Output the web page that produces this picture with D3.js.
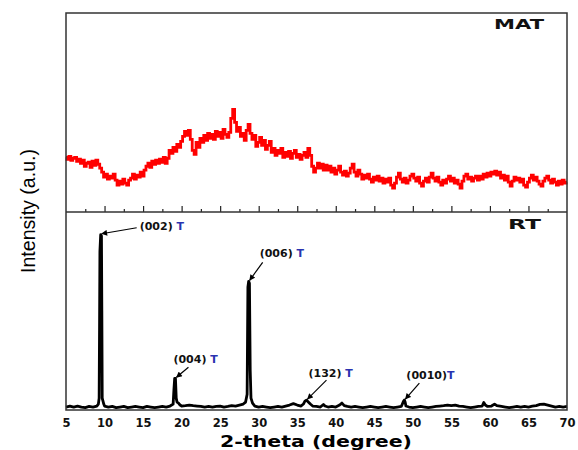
<!DOCTYPE html>
<html>
<head>
<meta charset="utf-8">
<script src="https://cdn.jsdelivr.net/npm/d3@7/dist/d3.min.js"></script>
<style>
body { margin: 0; background: #fff; }
svg { display: block; }
</style>
</head>
<body>
<div id="chart"></div>
<script>
// x axis
const xTicks = [5, 10, 15, 20, 25, 30, 35, 40, 45, 50, 55, 60, 65, 70];
const xMinor = [7.5, 12.5, 17.5, 22.5, 27.5, 32.5, 37.5, 42.5, 47.5, 52.5, 57.5, 62.5, 67.5];
const panelNames = ["MAT", "RT"];

// MAT pattern (2-theta, counts) - red
const matData = [
  [5,550],[5.25,530],[5.5,560],[5.75,520],
  [6,540],[6.25,550],[6.5,510],[6.75,530],
  [7,490],[7.25,520],[7.5,460],[7.75,490],
  [8,500],[8.25,450],[8.5,510],[8.75,470],
  [9,520],[9.25,480],[9.5,440],[9.75,400],
  [10,350],[10.25,380],[10.5,330],[10.75,360],
  [11,340],[11.25,380],[11.5,320],[11.75,270],
  [12,310],[12.25,280],[12.5,330],[12.75,290],
  [13,270],[13.25,320],[13.5,340],[13.75,380],
  [14,330],[14.25,370],[14.5,350],[14.75,400],
  [15,360],[15.25,420],[15.5,460],[15.75,490],
  [16,450],[16.25,510],[16.5,480],[16.75,520],
  [17,490],[17.25,530],[17.5,500],[17.75,550],
  [18,490],[18.25,540],[18.5,620],[18.75,590],
  [19,650],[19.25,610],[19.5,680],[19.75,650],
  [20,710],[20.25,760],[20.5,810],[20.75,770],
  [21,820],[21.25,730],[21.5,620],[21.75,580],
  [22,700],[22.25,650],[22.5,740],[22.75,700],
  [23,770],[23.25,720],[23.5,790],[23.75,740],
  [24,780],[24.25,730],[24.5,810],[24.75,760],
  [25,800],[25.25,740],[25.5,830],[25.75,780],
  [26,750],[26.25,800],[26.5,940],[26.75,1030],
  [27,900],[27.25,810],[27.5,850],[27.75,760],
  [28,790],[28.25,720],[28.5,820],[28.75,880],
  [29,790],[29.25,730],[29.5,770],[29.75,660],
  [30,700],[30.25,750],[30.5,670],[30.75,720],
  [31,630],[31.25,670],[31.5,710],[31.75,600],
  [32,640],[32.25,570],[32.5,620],[32.75,590],
  [33,640],[33.25,550],[33.5,600],[33.75,560],
  [34,610],[34.25,540],[34.5,590],[34.75,620],
  [35,550],[35.25,580],[35.5,530],[35.75,570],
  [36,600],[36.25,550],[36.5,640],[36.75,570],
  [37,460],[37.25,400],[37.5,440],[37.75,490],
  [38,440],[38.25,480],[38.5,420],[38.75,470],
  [39,420],[39.25,460],[39.5,400],[39.75,440],
  [40,380],[40.25,420],[40.5,460],[40.75,400],
  [41,370],[41.25,410],[41.5,360],[41.75,390],
  [42,440],[42.25,480],[42.5,400],[42.75,360],
  [43,420],[43.25,380],[43.5,330],[43.75,370],
  [44,340],[44.25,380],[44.5,330],[44.75,300],
  [45,350],[45.25,320],[45.5,360],[45.75,310],
  [46,340],[46.25,290],[46.5,330],[46.75,300],
  [47,340],[47.25,270],[47.5,240],[47.75,290],
  [48,350],[48.25,390],[48.5,330],[48.75,300],
  [49,340],[49.25,290],[49.5,320],[49.75,360],
  [50,380],[50.25,340],[50.5,310],[50.75,350],
  [51,290],[51.25,260],[51.5,310],[51.75,340],
  [52,300],[52.25,350],[52.5,390],[52.75,340],
  [53,310],[53.25,350],[53.5,300],[53.75,270],
  [54,320],[54.25,290],[54.5,330],[54.75,360],
  [55,310],[55.25,340],[55.5,290],[55.75,320],
  [56,280],[56.25,240],[56.5,310],[56.75,360],
  [57,380],[57.25,330],[57.5,350],[57.75,310],
  [58,340],[58.25,360],[58.5,320],[58.75,360],
  [59,330],[59.25,380],[59.5,350],[59.75,390],
  [60,360],[60.25,400],[60.5,380],[60.75,410],
  [61,370],[61.25,400],[61.5,340],[61.75,370],
  [62,320],[62.25,360],[62.5,300],[62.75,260],
  [63,310],[63.25,350],[63.5,320],[63.75,340],
  [64,300],[64.25,330],[64.5,270],[64.75,250],
  [65,300],[65.25,340],[65.5,370],[65.75,320],
  [66,350],[66.25,310],[66.5,280],[66.75,260],
  [67,310],[67.25,340],[67.5,360],[67.75,320],
  [68,290],[68.25,330],[68.5,300],[68.75,270],
  [69,310],[69.25,280],[69.5,320],[69.75,290],
  [70,300]
];

// RT pattern (2-theta, counts) - black
const rtData = [
  [5,15],[5.5,20],[6,15],[6.5,20],[7,15],[7.5,12],[8,18],[8.5,15],[9,20],
  [9.2,30],[9.3,60],[9.35,400],[9.4,800],[9.5,885],[9.6,880],[9.65,500],[9.7,60],[9.8,45],[9.9,30],
  [10,20],[10.5,15],[11,18],[11.5,12],[12,15],[12.5,18],[13,12],[13.5,15],[14,18],[14.5,15],
  [15,12],[15.5,18],[16,15],[16.5,12],[17,15],[17.5,18],[18,15],[18.5,20],
  [18.9,30],[19,100],[19.1,160],[19.2,160],[19.3,60],[19.4,40],[19.6,35],[19.8,25],
  [20,20],[20.5,22],[21,25],[21.5,22],[22,20],[22.5,18],[23,15],[23.5,18],[24,15],[24.5,18],
  [25,20],[25.5,15],[26,18],[26.5,22],[27,20],[27.5,25],[28,30],[28.3,40],
  [28.5,80],[28.6,620],[28.7,650],[28.8,640],[28.9,200],[29,60],[29.2,35],[29.5,20],
  [30,15],[30.5,18],[31,15],[31.5,12],[32,15],[32.5,18],[33,15],[33.5,20],[34,25],[34.5,32],
  [35,25],[35.5,20],[35.8,30],[36,45],[36.2,50],[36.4,42],[36.7,30],[37,20],[37.5,18],
  [38,15],[38.4,28],[38.6,20],[39,15],[39.5,18],[40,15],[40.5,25],[40.8,35],[41.1,22],[41.5,18],
  [42,15],[42.5,18],[43,15],[43.5,12],[44,15],[44.5,18],[45,15],[45.5,12],[46,15],[46.5,18],
  [47,15],[47.5,12],[48,15],[48.5,18],[48.8,45],[48.9,50],[49,40],[49.1,20],[49.5,15],
  [50,12],[50.5,15],[51,18],[51.5,15],[52,12],[52.5,15],[53,18],[53.5,20],[54,22],[54.5,25],
  [55,22],[55.5,25],[56,20],[56.5,18],[57,15],[57.5,12],[58,15],[58.5,18],[59,20],[59.2,38],
  [59.4,25],[59.7,18],[60.2,20],[60.6,30],[60.9,22],[61.5,18],[62,15],[62.5,12],[63,15],[63.5,18],
  [64,15],[64.5,18],[65,15],[65.5,20],[66,22],[66.5,28],[67,30],[67.5,25],[68,20],[68.5,15],
  [69,18],[69.5,15],[70,18]
];

// peak assignments in the RT pattern
const peakLabels = ["(002) ", "(004) ", "(006) ", "(132) ", "(0010)"];
const peakPhase = ["T", "T", "T", "T", "T"];
const peakAngles = [9.5, 19.2, 28.7, 36.2, 48.9];
const peakHeights = [885, 160, 650, 50, 50];

const width = 578, height = 450;
const mLeft = 66, mRight = 567, mTop = 13, mMid = 212, mBottom = 410;

const svg = d3.select("#chart").append("svg")
  .attr("width", width).attr("height", height);

svg.append("defs").append("marker")
  .attr("id", "arr")
  .attr("viewBox", "0 0 10 10")
  .attr("refX", 9).attr("refY", 5)
  .attr("markerWidth", 7).attr("markerHeight", 6)
  .attr("markerUnits", "userSpaceOnUse")
  .attr("orient", "auto")
  .append("path").attr("d", "M0,0 L10,5 L0,10 z").attr("fill", "#000");

const x = d3.scaleLinear().domain([5, 70]).range([mLeft, mRight]);
const yTop = d3.scaleLinear().domain([0, 2000]).range([mMid, mTop]);
const yBot = d3.scaleLinear().domain([0, 1000]).range([mBottom, mMid]);

// traces (MAT drawn as a stepped scan, like the raw detector output)
const lineTop = d3.line().curve(d3.curveStep).x(d => x(d[0])).y(d => yTop(d[1]));
const lineBot = d3.line().x(d => x(d[0])).y(d => yBot(d[1]));

svg.append("path").datum(matData)
  .attr("d", lineTop)
  .attr("fill", "none").attr("stroke", "#ff0000")
  .attr("stroke-width", 2.8).attr("stroke-linejoin", "miter");

svg.append("path").datum(rtData)
  .attr("d", lineBot)
  .attr("fill", "none").attr("stroke", "#000")
  .attr("stroke-width", 2.8).attr("stroke-linejoin", "round");

// divider ticks (pointing up into the MAT panel)
svg.append("g").attr("transform", `translate(0,${mMid})`)
  .call(d3.axisTop(x).tickValues(xTicks.slice(1, -1)).tickSize(6).tickFormat(""))
  .call(g => g.select(".domain").remove())
  .selectAll("line").attr("stroke", "#222").attr("stroke-width", 1.2);
svg.append("g").attr("transform", `translate(0,${mMid})`)
  .call(d3.axisTop(x).tickValues(xMinor).tickSize(3).tickFormat(""))
  .call(g => g.select(".domain").remove())
  .selectAll("line").attr("stroke", "#222").attr("stroke-width", 1.2);

// bottom tick labels
const xAxis = svg.append("g").attr("transform", `translate(0,${mBottom})`)
  .call(d3.axisBottom(x).tickValues(xTicks).tickSize(0).tickPadding(9).tickFormat(d3.format("d")));
xAxis.select(".domain").remove();
xAxis.selectAll("text")
  .attr("font-family", "DejaVu Sans, sans-serif")
  .attr("font-weight", "bold").attr("font-size", 11.5).attr("fill", "#111");

// frame
svg.append("rect")
  .attr("x", mLeft).attr("y", mTop)
  .attr("width", mRight - mLeft).attr("height", mBottom - mTop)
  .attr("fill", "none").attr("stroke", "#333").attr("stroke-width", 1.5);
svg.append("line")
  .attr("x1", mLeft).attr("x2", mRight).attr("y1", mMid).attr("y2", mMid)
  .attr("stroke", "#333").attr("stroke-width", 1.5);

// axis titles
svg.append("text")
  .attr("x", 316).attr("y", 447)
  .attr("text-anchor", "middle")
  .attr("font-family", "DejaVu Sans, sans-serif")
  .attr("font-weight", "bold").attr("font-size", 16)
  .attr("textLength", 192).attr("lengthAdjust", "spacingAndGlyphs")
  .text("2-theta (degree)");

svg.append("text")
  .attr("transform", "translate(35,211) rotate(-90)")
  .attr("text-anchor", "middle")
  .attr("font-family", "Liberation Sans Narrow, Liberation Sans, sans-serif")
  .attr("font-size", 21)
  .attr("textLength", 124).attr("lengthAdjust", "spacingAndGlyphs")
  .text("Intensity (a.u.)");

// panel names
svg.selectAll(".pname").data(panelNames).enter().append("text")
  .attr("class", "pname")
  .attr("x", (d, i) => i === 0 ? 494 : 508)
  .attr("y", (d, i) => i === 0 ? 29 : 229)
  .attr("font-family", "DejaVu Sans, sans-serif")
  .attr("font-weight", "bold").attr("font-size", 14)
  .attr("textLength", (d, i) => i === 0 ? 50 : 33)
  .attr("lengthAdjust", "spacingAndGlyphs")
  .attr("fill", "#111")
  .text(d => d);

// peak labels with arrows
const tailOff = [[36, -7], [13, -11], [14, -19], [20, -20], [15, -17]];
const textOff = [[39, -5], [-2, -15], [11, -24], [2, -23], [2, -21]];

const ann = svg.selectAll(".peak").data(peakAngles).enter().append("g").attr("class", "peak");

ann.append("line")
  .attr("x1", (d, i) => x(d) + tailOff[i][0])
  .attr("y1", (d, i) => yBot(peakHeights[i]) + tailOff[i][1])
  .attr("x2", d => x(d) + 1)
  .attr("y2", (d, i) => yBot(peakHeights[i]) - 1)
  .attr("stroke", "#000").attr("stroke-width", 1.2)
  .attr("marker-end", "url(#arr)");

const lab = ann.append("text")
  .attr("x", (d, i) => x(d) + textOff[i][0])
  .attr("y", (d, i) => yBot(peakHeights[i]) + textOff[i][1])
  .attr("font-family", "DejaVu Sans, sans-serif")
  .attr("font-weight", "bold").attr("font-size", 11)
  .attr("xml:space", "preserve");
lab.append("tspan").attr("fill", "#111").text((d, i) => peakLabels[i]);
lab.append("tspan").attr("fill", "#2a33b0").text((d, i) => peakPhase[i]);
</script>
</body>
</html>
